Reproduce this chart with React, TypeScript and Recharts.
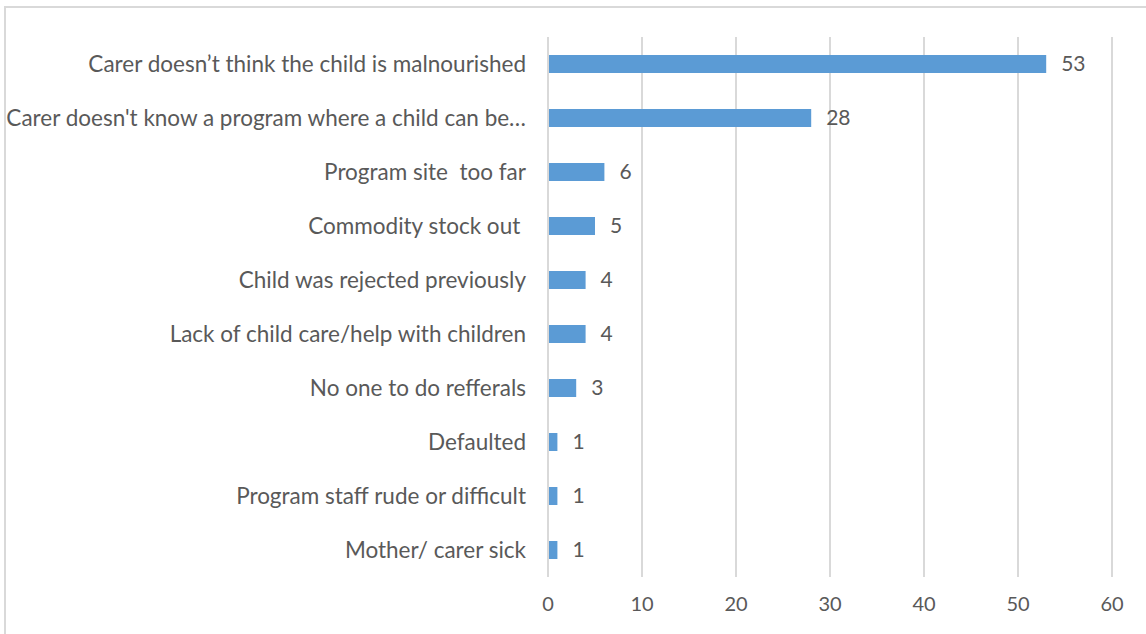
import React from 'react';
import { BarChart, Bar, XAxis, YAxis, CartesianGrid, LabelList } from 'recharts';

const categories = [
  'Carer doesn’t think the child is malnourished',
  "Carer doesn't know a program where a child can be…",
  'Program site  too far',
  'Commodity stock out ',
  'Child was rejected previously',
  'Lack of child care/help with children',
  'No one to do refferals',
  'Defaulted',
  'Program staff rude or difficult',
  'Mother/ carer sick',
];

const counts = [53, 28, 6, 5, 4, 4, 3, 1, 1, 1];

const xTicks = [0, 10, 20, 30, 40, 50, 60];

const data = categories.map((name, i) => ({ name, value: counts[i] }));

const TEXT = '#595959';
const GRID = '#D9D9D9';
const FONT = 'Lato, "Open Sans", sans-serif';

const CategoryTick = (props: any) => {
  const { x, y, payload } = props;
  return (
    <text
      x={x}
      y={y}
      dy="0.35em"
      textAnchor="end"
      fill={TEXT}
      fontSize={22.5}
      fontFamily={FONT}
      xmlSpace="preserve"
      style={{ whiteSpace: 'pre' }}
    >
      {payload.value}
    </text>
  );
};

export default function App() {
  return (
    <div
      style={{
        position: 'fixed',
        left: 0,
        top: 0,
        width: 1146,
        height: 634,
        background: '#fff',
      }}
    >
      <div
        style={{
          position: 'absolute',
          left: 4,
          top: 6,
          right: 0,
          bottom: 0,
          borderLeft: `2px solid ${GRID}`,
          borderTop: `2px solid ${GRID}`,
        }}
      />
      <BarChart
        width={1146}
        height={634}
        data={data}
        layout="vertical"
        margin={{ top: 37, right: 34, bottom: 17, left: 0 }}
        barCategoryGap="33%"
        style={{ position: 'absolute', left: 0, top: 0 }}
      >
        <CartesianGrid horizontal={false} stroke={GRID} strokeWidth={2} />
        <XAxis
          type="number"
          domain={[0, 60]}
          ticks={xTicks}
          axisLine={false}
          tickLine={false}
          tickSize={0}
          tickMargin={20}
          height={40}
          tick={{ fill: TEXT, fontSize: 20, fontFamily: FONT }}
        />
        <YAxis
          type="category"
          dataKey="name"
          width={548}
          axisLine={{ stroke: GRID, strokeWidth: 2 }}
          tickLine={false}
          tickSize={0}
          tickMargin={22}
          interval={0}
          tick={<CategoryTick />}
        />
        <Bar dataKey="value" fill="#5B9BD5" barSize={18} isAnimationActive={false}>
          <LabelList
            dataKey="value"
            position="right"
            offset={15}
            fill={TEXT}
            fontSize={21}
            fontFamily={FONT}
          />
        </Bar>
      </BarChart>
    </div>
  );
}
